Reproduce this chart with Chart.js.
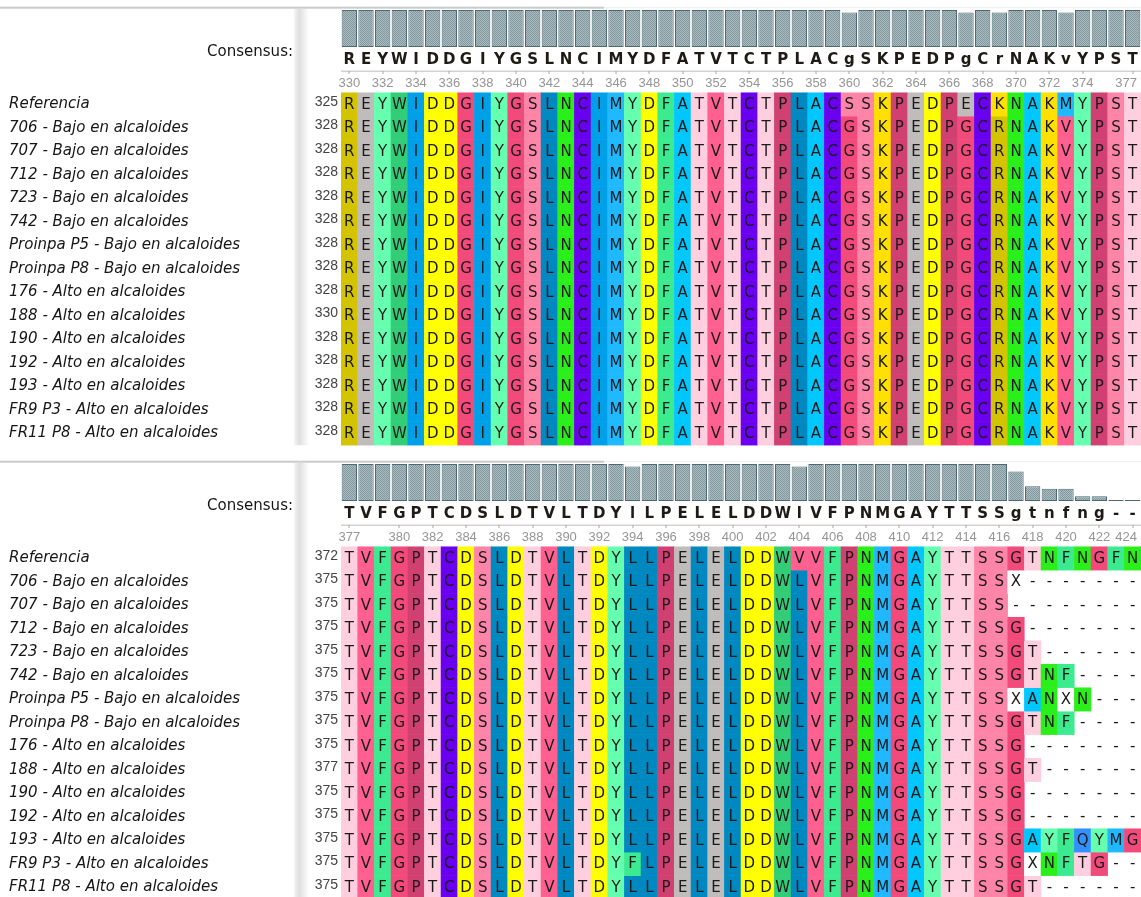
<!DOCTYPE html>
<html lang="es">
<head>
  <meta charset="UTF-8">
  <title>Alineamiento de secuencias</title>
  <script src="https://cdn.jsdelivr.net/npm/chart.js"></script>
  <style>
    html, body { margin: 0; padding: 0; background: #fff; }
    body { width: 1141px; height: 897px; overflow: hidden; position: relative; }
    .panel { position: absolute; left: 0; width: 1141px; }
    #top { top: 0; height: 454px; }
    #bottom { top: 454px; height: 443px; }
  </style>
</head>
<body>
  <div class="panel" id="top"><canvas id="topChart"></canvas></div>
  <div class="panel" id="bottom"><canvas id="bottomChart"></canvas></div>

  <script>
    const rowNames = [
      'Referencia',
      '706 - Bajo en alcaloides',
      '707 - Bajo en alcaloides',
      '712 - Bajo en alcaloides',
      '723 - Bajo en alcaloides',
      '742 - Bajo en alcaloides',
      'Proinpa P5 - Bajo en alcaloides',
      'Proinpa P8 - Bajo en alcaloides',
      '176 - Alto en alcaloides',
      '188 - Alto en alcaloides',
      '190 - Alto en alcaloides',
      '192 - Alto en alcaloides',
      '193 - Alto en alcaloides',
      'FR9 P3 - Alto en alcaloides',
      'FR11 P8 - Alto en alcaloides'
    ];

    // panel 1: positions 330-377
    const topFirstPos = 330;
    const topStarts = [325, 328, 328, 328, 328, 328, 328, 328, 328, 330, 328, 328, 328, 328, 328];
    const topConsensus = 'REYWIDDGIYGSLNCIMYDFATVTCTPLACgSKPEDPgCrNAKvYPST';
    const topSeqs = [
      'REYWIDDGIYGSLNCIMYDFATVTCTPLACSSKPEDPECKNAKMYPST',
      'REYWIDDGIYGSLNCIMYDFATVTCTPLACGSKPEDPGCRNAKVYPST',
      'REYWIDDGIYGSLNCIMYDFATVTCTPLACGSKPEDPGCRNAKVYPST',
      'REYWIDDGIYGSLNCIMYDFATVTCTPLACGSKPEDPGCRNAKVYPST',
      'REYWIDDGIYGSLNCIMYDFATVTCTPLACGSKPEDPGCRNAKVYPST',
      'REYWIDDGIYGSLNCIMYDFATVTCTPLACGSKPEDPGCRNAKVYPST',
      'REYWIDDGIYGSLNCIMYDFATVTCTPLACGSKPEDPGCRNAKVYPST',
      'REYWIDDGIYGSLNCIMYDFATVTCTPLACGSKPEDPGCRNAKVYPST',
      'REYWIDDGIYGSLNCIMYDFATVTCTPLACGSKPEDPGCRNAKVYPST',
      'REYWIDDGIYGSLNCIMYDFATVTCTPLACGSKPEDPGCRNAKVYPST',
      'REYWIDDGIYGSLNCIMYDFATVTCTPLACGSKPEDPGCRNAKVYPST',
      'REYWIDDGIYGSLNCIMYDFATVTCTPLACGSKPEDPGCRNAKVYPST',
      'REYWIDDGIYGSLNCIMYDFATVTCTPLACGSKPEDPGCRNAKVYPST',
      'REYWIDDGIYGSLNCIMYDFATVTCTPLACGSKPEDPGCRNAKVYPST',
      'REYWIDDGIYGSLNCIMYDFATVTCTPLACGSKPEDPGCRNAKVYPST'
    ];
    const topConservation = [
      1, 1, 1, 1, 1, 1, 1, 1, 1, 1, 1, 1, 1, 1, 1, 1,
      1, 1, 1, 1, 1, 1, 1, 1, 1, 1, 1, 1, 1, 1, 0.93, 1,
      1, 1, 1, 1, 1, 0.93, 1, 0.93, 1, 1, 1, 0.93, 1, 1, 1, 1
    ];
    const topTicks = [330, 332, 334, 336, 338, 340, 342, 344, 346, 348, 350, 352,
      354, 356, 358, 360, 362, 364, 366, 368, 370, 372, 374, 377];

    // panel 2: positions 377-424
    const bottomFirstPos = 377;
    const bottomStarts = [372, 375, 375, 375, 375, 375, 375, 375, 375, 377, 375, 375, 375, 375, 375];
    const bottomConsensus = 'TVFGPTCDSLDTVLTDYlLPELELDDWlVFPNMGAYTTSSgtnfng--';
    const bottomSeqs = [
      'TVFGPTCDSLDTVLTDYLLPELELDDWVVFPNMGAYTTSSGTNFNGFN',
      'TVFGPTCDSLDTVLTDYLLPELELDDWLVFPNMGAYTTSSX-------',
      'TVFGPTCDSLDTVLTDYLLPELELDDWLVFPNMGAYTTSS--------',
      'TVFGPTCDSLDTVLTDYLLPELELDDWLVFPNMGAYTTSSG-------',
      'TVFGPTCDSLDTVLTDYLLPELELDDWLVFPNMGAYTTSSGT------',
      'TVFGPTCDSLDTVLTDYLLPELELDDWLVFPNMGAYTTSSGTNF----',
      'TVFGPTCDSLDTVLTDYLLPELELDDWLVFPNMGAYTTSSXANXN---',
      'TVFGPTCDSLDTVLTDYLLPELELDDWLVFPNMGAYTTSSGTNF----',
      'TVFGPTCDSLDTVLTDYLLPELELDDWLVFPNMGAYTTSSG-------',
      'TVFGPTCDSLDTVLTDYLLPELELDDWLVFPNMGAYTTSSGT------',
      'TVFGPTCDSLDTVLTDYLLPELELDDWLVFPNMGAYTTSSG-------',
      'TVFGPTCDSLDTVLTDYLLPELELDDWLVFPNMGAYTTSSG-------',
      'TVFGPTCDSLDTVLTDYLLPELELDDWLVFPNMGAYTTSSGAYFQYMG',
      'TVFGPTCDSLDTVLTDYFLPELELDDWLVFPNMGAYTTSSGXNFTG--',
      'TVFGPTCDSLDTVLTDYLLPELELDDWLVFPNMGAYTTSSGT------'
    ];
    const bottomConservation = [
      1, 1, 1, 1, 1, 1, 1, 1, 1, 1, 1, 1, 1, 1, 1, 1,
      1, 0.93, 1, 1, 1, 1, 1, 1, 1, 1, 1, 0.93, 1, 1, 1, 1,
      1, 1, 1, 1, 1, 1, 1, 1, 0.8, 0.4, 0.33, 0.33, 0.13, 0.13, 0.03, 0.03
    ];
    const bottomTicks = [377, 380, 382, 384, 386, 388, 390, 392, 394, 396, 398, 400,
      402, 404, 406, 408, 410, 412, 414, 416, 418, 420, 422, 424];

    const aaColors = {
      A: '#00c8ff', C: '#6a00f0', D: '#ffff00', E: '#c0bcbc', F: '#3ceb90',
      G: '#f24a7a', I: '#00a0e8', K: '#ffe000', L: '#0088c0', M: '#20b8ff',
      N: '#2bef1a', P: '#d04070', Q: '#3390ff', R: '#d4c400', S: '#ff85a8',
      T: '#ffcfdf', V: '#ff6090', W: '#33cc77', Y: '#66ffb0', X: '#ffffff'
    };

    // layout (pixels inside each panel)
    const ROW_H = 23.5;
    const CELLS_TOP = 92.7;
    const SEQ_LEFT = 341;
    const HIST_BOTTOM = 47;
    const HIST_TOP = 10;
    const px2v = p => (p - CELLS_TOP) / ROW_H - 0.5;

    function histPattern() {
      const c = document.createElement('canvas');
      c.width = 2; c.height = 2;
      const g = c.getContext('2d');
      g.fillStyle = '#a9bbbf'; g.fillRect(0, 0, 2, 2);
      g.fillStyle = '#82999f'; g.fillRect(0, 0, 1, 1); g.fillRect(1, 1, 1, 1);
      return g.createPattern(c, 'repeat');
    }

    const alignPlugin = {
      id: 'alignText',
      beforeDraw(chart) {
        const ctx = chart.ctx;
        const h = chart.height;
        ctx.save();
        ctx.fillStyle = '#fff';
        ctx.fillRect(0, 0, chart.width, h);
        // separator
        ctx.fillStyle = '#cacaca';
        ctx.fillRect(0, 6.7, 604, 2);
        ctx.fillStyle = '#ededed';
        ctx.fillRect(604, 7.2, chart.width - 604, 1);
        // gutter strip
        const grad = ctx.createLinearGradient(294, 0, 309, 0);
        grad.addColorStop(0, '#f6f6f6');
        grad.addColorStop(0.35, '#dedede');
        grad.addColorStop(1, '#ffffff');
        ctx.fillStyle = grad;
        ctx.fillRect(294, 9, 15, Math.min(h, CELLS_TOP + 15 * ROW_H) - 9);
        ctx.restore();
      },
      afterDatasetsDraw(chart, args, opts) {
        const ctx = chart.ctx;
        const xs = chart.scales.x, ys = chart.scales.y;
        ctx.save();
        ctx.textBaseline = 'middle';

        // consensus label + letters
        ctx.fillStyle = '#151515';
        ctx.font = '15px "DejaVu Sans", Verdana, sans-serif';
        ctx.textAlign = 'right';
        ctx.fillText('Consensus:', 293, 52);
        ctx.textAlign = 'center';
        ctx.font = 'bold 15px "DejaVu Sans", Verdana, sans-serif';
        ctx.fillStyle = '#1e1a16';
        opts.consensus.split('').forEach((ch, i) => {
          ctx.fillText(ch, xs.getPixelForValue(i), 60.5);
        });

        // ruler
        ctx.fillStyle = '#d2d2d2';
        ctx.fillRect(SEQ_LEFT, 70.5, chart.width - SEQ_LEFT, 1.5);
        ctx.font = '13px "Liberation Sans", Arial, sans-serif';
        opts.ticks.forEach(pos => {
          const x = xs.getPixelForValue(pos - opts.firstPos);
          ctx.fillStyle = '#a8a8a8';
          ctx.fillRect(Math.round(x) - 0.5, 71, 1, 3);
          ctx.fillStyle = '#959595';
          const half = ctx.measureText(String(pos)).width / 2;
          ctx.fillText(String(pos), Math.min(x, chart.width - 4 - half), 83);
        });

        // row names, start numbers and residues
        opts.seqs.forEach((seq, r) => {
          const y = ys.getPixelForValue(r);
          ctx.textAlign = 'left';
          ctx.fillStyle = '#161616';
          ctx.font = 'italic 15px "DejaVu Sans", Verdana, sans-serif';
          ctx.fillText(rowNames[r], 9, y);
          ctx.textAlign = 'right';
          ctx.fillStyle = '#444';
          ctx.font = '14px "Liberation Sans", Arial, sans-serif';
          ctx.fillText(String(opts.starts[r]), 338, y - 2.7);
          ctx.textAlign = 'center';
          ctx.fillStyle = '#1a1a1a';
          ctx.font = '15px "DejaVu Sans", Verdana, sans-serif';
          seq.split('').forEach((ch, i) => {
            ctx.fillText(ch, xs.getPixelForValue(i), y + 0.5);
          });
        });
        ctx.restore();
      }
    };

    function buildPanel(canvasId, firstPos, starts, seqs, consensus, conservation, ticks) {
      const canvas = document.getElementById(canvasId);
      const h = canvas.parentNode.clientHeight;
      const labels = consensus.split('').map((c, i) => firstPos + i);
      const base = px2v(HIST_BOTTOM);
      const span = px2v(HIST_BOTTOM) - px2v(HIST_TOP);

      const datasets = [{
        label: 'Identidad',
        data: conservation.map(f => [base, base - f * span]),
        backgroundColor: histPattern(),
        borderColor: '#4d6973',
        borderWidth: 1,
        borderSkipped: false,
        barPercentage: 0.92,
        categoryPercentage: 1,
        grouped: false
      }];

      seqs.forEach((seq, r) => {
        const chars = seq.split('');
        datasets.push({
          label: rowNames[r],
          data: chars.map(ch => ch === '-' ? null : [r - 0.51, r + 0.51]),
          backgroundColor: chars.map(ch => aaColors[ch] || '#ffffff'),
          borderWidth: 0,
          barPercentage: 1.03,
          categoryPercentage: 1,
          grouped: false
        });
      });

      return new Chart(canvas, {
        type: 'bar',
        data: { labels: labels, datasets: datasets },
        options: {
          responsive: true,
          maintainAspectRatio: false,
          animation: false,
          events: [],
          layout: { padding: { left: SEQ_LEFT, right: 0, top: 0, bottom: 0 } },
          scales: {
            x: { type: 'category', display: false, offset: true },
            y: { type: 'linear', display: false, reverse: true, min: px2v(0), max: px2v(h) }
          },
          plugins: {
            legend: { display: false },
            tooltip: { enabled: false },
            alignText: { firstPos, starts, seqs, consensus, ticks }
          }
        },
        plugins: [alignPlugin]
      });
    }

    buildPanel('topChart', topFirstPos, topStarts, topSeqs, topConsensus, topConservation, topTicks);
    buildPanel('bottomChart', bottomFirstPos, bottomStarts, bottomSeqs, bottomConsensus, bottomConservation, bottomTicks);
  </script>
</body>
</html>
